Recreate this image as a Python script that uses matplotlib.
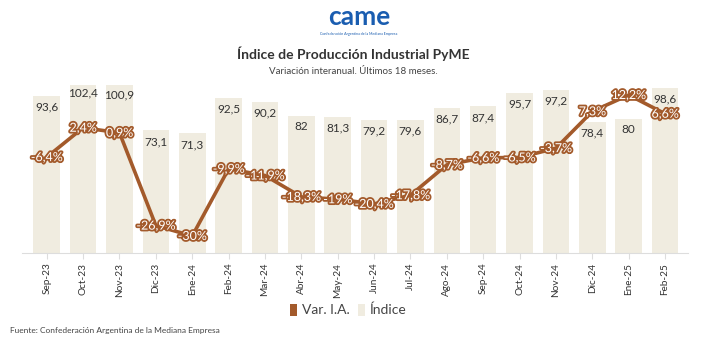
import matplotlib
matplotlib.use("Agg")
import matplotlib.pyplot as plt
import matplotlib.patheffects as pe
from matplotlib.patches import Patch

plt.rcParams['font.family'] = ['Lato', 'DejaVu Sans']

months = ["Sep-23", "Oct-23", "Nov-23", "Dic-23", "Ene-24", "Feb-24", "Mar-24", "Abr-24",
          "May-24", "Jun-24", "Jul-24", "Ago-24", "Sep-24", "Oct-24", "Nov-24", "Dic-24",
          "Ene-25", "Feb-25"]
indice = [93.6, 102.4, 100.9, 73.1, 71.3, 92.5, 90.2, 82, 81.3, 79.2, 79.6, 86.7, 87.4,
          95.7, 97.2, 78.4, 80, 98.6]
var_ia = [-6.4, 2.4, 0.9, -26.9, -30, -9.9, -11.9, -18.3, -19, -20.4, -17.8, -8.7, -6.6,
          -6.5, -3.7, 7.3, 12.2, 6.6]

BAR = "#F0ECE0"
LINE = "#A35A2B"
BLUE = "#1A5DB0"


def fmt(v):
    s = ("%g" % v).replace(".", ",")
    return s


fig = plt.figure(figsize=(7.06, 3.46), dpi=100)
ax = fig.add_axes([22 / 706, 1 - 253 / 346, 666 / 706, 168 / 346])
x = list(range(len(months)))

ax.bar(x, indice, width=0.73, color=BAR, zorder=1)
ax.set_ylim(0, 100.2)
ax.set_xlim(-0.68, 17.63)
for xi, v in zip(x, indice):
    ax.annotate(fmt(v), (xi, v), xytext=(0, -8), textcoords="offset points",
                ha="center", va="center", fontsize=8.5, color="#333333", zorder=3,
                annotation_clip=False)

for side in ["left", "right", "top"]:
    ax.spines[side].set_visible(False)
ax.spines["bottom"].set_color("#DDDDDD")
ax.set_yticks([])
ax.set_xticks(x)
ax.set_xticklabels(months, rotation=90, fontsize=7.2, color="#333333")
ax.tick_params(axis="x", length=4, color="#DDDDDD", pad=3)

ax2 = ax.twinx()
ax2.plot(x, var_ia, color=LINE, lw=2.6, zorder=4, solid_joinstyle="round")
ax2.set_ylim(-35.1, 15.2)
ax2.set_yticks([])
for side in ["left", "right", "top", "bottom"]:
    ax2.spines[side].set_visible(False)
for xi, v in zip(x, var_ia):
    ax2.text(xi, v, fmt(v) + "%", ha="center", va="center", fontsize=9,
             color="white", zorder=5,
             path_effects=[pe.withStroke(linewidth=2.6, foreground=LINE)])

# header
fig.text(359 / 706, 1 - 17 / 346, "came", ha="center", va="center", fontsize=19,
         fontweight="bold", color=BLUE)
fig.text(359 / 706, 1 - 34 / 346, "Confederación Argentina de la Mediana Empresa",
         ha="center", va="center", fontsize=2.6, color=BLUE)
fig.text(353 / 706, 1 - 54 / 346, "Índice de Producción Industrial PyME",
         ha="center", va="center", fontsize=10, fontweight="bold", color="#333333")
fig.text(353 / 706, 1 - 71.5 / 346, "Variación interanual. Últimos 18 meses.",
         ha="center", va="center", fontsize=7, color="#444444")

handles = [Patch(facecolor=LINE, edgecolor="none"), Patch(facecolor=BAR, edgecolor="none")]
fig.legend(handles, ["Var. I.A.", "Índice"], loc="center", bbox_to_anchor=(348 / 706, 1 - 310 / 346),
           ncol=2, frameon=False, fontsize=10, handlelength=0.55, handleheight=1.0,
           handletextpad=0.3, columnspacing=0.6, labelcolor="#444444")

fig.text(10 / 706, 1 - 331 / 346, "Fuente: Confederación Argentina de la Mediana Empresa",
         ha="left", va="center", fontsize=6, color="#444444")

fig.savefig("out.png", dpi=100)
